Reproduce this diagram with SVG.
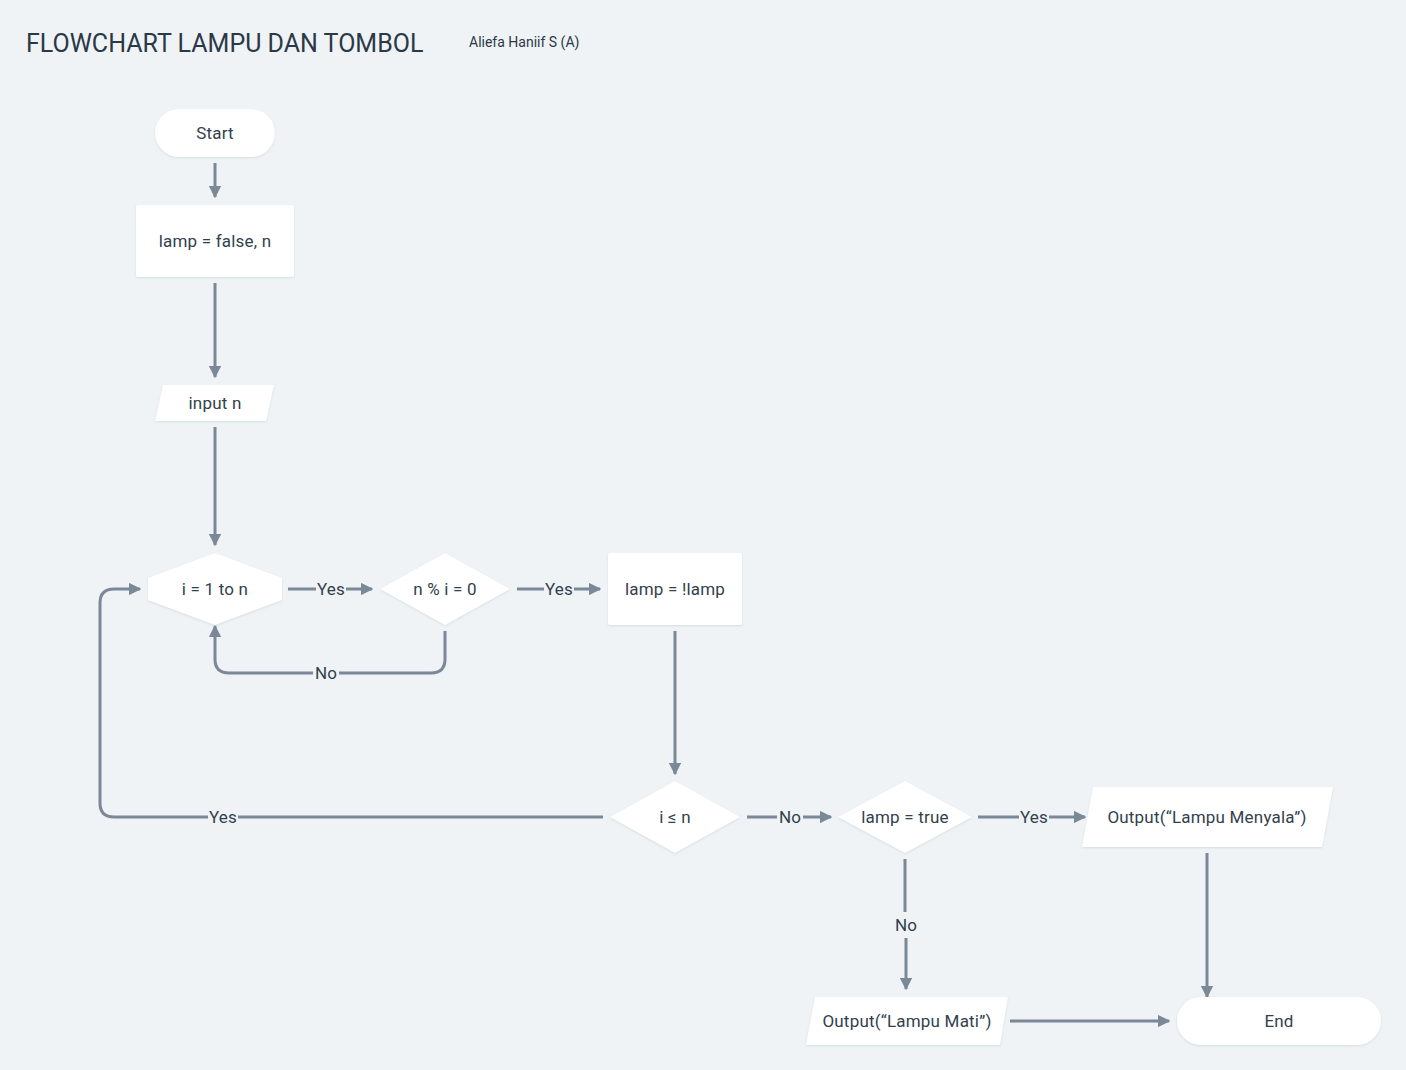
<svg xmlns="http://www.w3.org/2000/svg" width="1406" height="1070" viewBox="0 0 1406 1070">
<defs>
<style>
.n{fill:#ffffff;filter:url(#sh);}
.t{font-family:Roboto,"DejaVu Sans",sans-serif;font-size:17px;letter-spacing:0.2px;fill:#323f4d;text-anchor:middle;dominant-baseline:central;}
.c{fill:none;stroke:#7a8898;stroke-width:3;}
.lb{fill:#eff3f6;}
</style>
<filter id="sh" x="-10%" y="-10%" width="120%" height="130%">
<feDropShadow dx="0" dy="1" stdDeviation="1.2" flood-color="#8a96a3" flood-opacity="0.25"/>
</filter>
<marker id="ar" viewBox="0 0 10 10" refX="9" refY="5" markerWidth="4.2" markerHeight="4.2" markerUnits="strokeWidth" orient="auto">
<path d="M0,0 L10,5 L0,10 z" fill="#7a8898"/>
</marker>
</defs>
<rect width="1406" height="1070" fill="#eff3f6"/>
<text x="26" y="52" style="font-family:Roboto,'DejaVu Sans',sans-serif;font-size:25px;fill:#2b3847;">FLOWCHART LAMPU DAN TOMBOL</text>
<text x="469" y="47" style="font-family:Roboto,'DejaVu Sans',sans-serif;font-size:14px;fill:#2b3847;">Aliefa Haniif S (A)</text>

<g id="connectors">
<path class="c" d="M215,163 V197" marker-end="url(#ar)"/>
<path class="c" d="M215,283 V377" marker-end="url(#ar)"/>
<path class="c" d="M215,427 V545" marker-end="url(#ar)"/>
<path class="c" d="M288,589 H372" marker-end="url(#ar)"/>
<path class="c" d="M517,589 H600" marker-end="url(#ar)"/>
<path class="c" d="M445,631 V659 Q445,673 431,673 H229 Q215,673 215,659 V626" marker-end="url(#ar)"/>
<path class="c" d="M675,631 V774" marker-end="url(#ar)"/>
<path class="c" d="M603,817 H114 Q100,817 100,803 V603 Q100,589 114,589 H140" marker-end="url(#ar)"/>
<path class="c" d="M747,817 H831" marker-end="url(#ar)"/>
<path class="c" d="M978,817 H1085" marker-end="url(#ar)"/>
<path class="c" d="M905,859 V912 M906,938 V989" marker-end="url(#ar)"/>
<path class="c" d="M1207,853 V997" marker-end="url(#ar)"/>
<path class="c" d="M1010,1021 H1169" marker-end="url(#ar)"/>
<rect class="lb" x="316" y="579" width="30" height="20"/>
<text class="t" x="331" y="589">Yes</text>
<rect class="lb" x="544" y="579" width="30" height="20"/>
<text class="t" x="559" y="589">Yes</text>
<rect class="lb" x="313" y="663" width="26" height="20"/>
<text class="t" x="326" y="673">No</text>
<rect class="lb" x="208" y="807" width="30" height="20"/>
<text class="t" x="223" y="817">Yes</text>
<rect class="lb" x="777" y="807" width="26" height="20"/>
<text class="t" x="790" y="817">No</text>
<rect class="lb" x="1019" y="807" width="30" height="20"/>
<text class="t" x="1034" y="817">Yes</text>
<text class="t" x="906" y="925">No</text>
</g>

<g id="start"><rect class="n" x="155" y="109" width="120" height="48" rx="24"/><text class="t" x="215" y="133">Start</text></g>
<g id="init"><rect class="n" x="136" y="205" width="158" height="72" rx="2"/><text class="t" x="215" y="241">lamp = false, n</text></g>
<g id="input"><path class="n" d="M163,385 H274 L266,421 H155 Z"/><text class="t" x="215" y="403">input n</text></g>
<g id="loop"><path class="n" d="M215,553 L282,578 V600 L215,625 L148,600 V578 Z"/><text class="t" x="215" y="589">i = 1 to n</text></g>
<g id="mod"><path class="n" d="M445,553 L510,589 L445,625 L380,589 Z"/><text class="t" x="445" y="589">n % i = 0</text></g>
<g id="toggle"><rect class="n" x="608" y="553" width="134" height="72" rx="2"/><text class="t" x="675" y="589">lamp = !lamp</text></g>
<g id="cond"><path class="n" d="M675,781 L740,817 L675,853 L610,817 Z"/><text class="t" x="675" y="817">i ≤ n</text></g>
<g id="check"><path class="n" d="M905,781 L972,817 L905,853 L838,817 Z"/><text class="t" x="905" y="817">lamp = true</text></g>
<g id="on"><path class="n" d="M1093,787 H1333 L1322,847 H1082 Z"/><text class="t" x="1207" y="817">Output(“Lampu Menyala”)</text></g>
<g id="off"><path class="n" d="M815,997 H1008 L1000,1045 H806 Z"/><text class="t" x="907" y="1021">Output(“Lampu Mati”)</text></g>
<g id="end"><rect class="n" x="1177" y="997" width="204" height="48" rx="24"/><text class="t" x="1279" y="1021">End</text></g>
</svg>
